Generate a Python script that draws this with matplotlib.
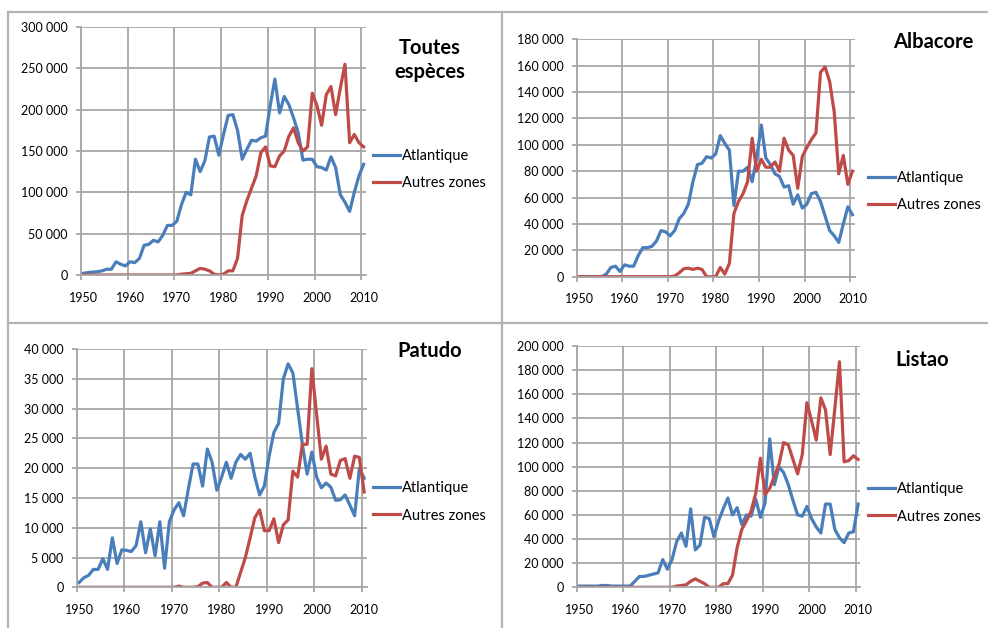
import numpy as np
import matplotlib
matplotlib.use('Agg')
import matplotlib.pyplot as plt
from matplotlib.lines import Line2D

plt.rcParams['font.family'] = ['Lato', 'DejaVu Sans']

years = np.arange(1950, 2011)

# Toutes especes
tout_atl = [2000, 3000, 3500, 4000, 5000, 7000, 7000, 16000, 13000, 11000,
            16000, 15000, 20000, 36000, 37000, 42000, 40000, 48000, 60000, 60000,
            65000, 85000, 100000, 97000, 140000, 125000, 138000, 167000, 168000, 145000,
            170000, 193000, 194000, 175000, 140000, 152000, 163000, 162000, 166000, 168000,
            205000, 237000, 196000, 216000, 206000, 190000, 172000, 139000, 140000, 140000,
            131000, 130000, 127000, 143000, 130000, 97000, 88000, 77000, 100000, 120000,
            134000]
tout_aut = [0] * 21 + [1000, 1500, 2000, 5000, 8000, 7000, 5000, 1000, 0,
            1000, 5000, 5000, 20000, 72000, 90000, 105000, 120000, 148000, 155000,
            132000, 131000, 144000, 150000, 168000, 178000, 160000, 150000, 155000, 220000,
            205000, 181000, 218000, 228000, 194000, 226000, 255000, 160000, 170000, 160000,
            155000]

# Albacore
alb_atl = [0, 0, 0, 0, 0, 0, 2000, 7000, 8000, 4000,
           9000, 8000, 8000, 16000, 22000, 22000, 23000, 27000, 35000, 34000,
           31000, 35000, 44000, 48000, 55000, 72000, 85000, 86000, 91000, 90000,
           93000, 107000, 101000, 96000, 54000, 80000, 80000, 83000, 72000, 90000,
           115000, 90000, 85000, 78000, 76000, 68000, 69000, 55000, 62000, 52000,
           55000, 63000, 64000, 57000, 46000, 35000, 31000, 26000, 40000, 53000,
           47000]
alb_aut = [0] * 21 + [500, 3000, 6000, 6500, 5500, 6500, 5500, 0, 0,
           0, 7000, 2000, 10000, 48000, 57000, 63000, 72000, 105000, 80000,
           89000, 83000, 83000, 87000, 80000, 105000, 96000, 92000, 67000, 91000,
           98000, 104000, 109000, 155000, 159000, 148000, 125000, 78000, 92000, 70000,
           80000]

# Patudo
pat_atl = [800, 1600, 2000, 3000, 3000, 4800, 3000, 8300, 4000, 6300,
           6200, 6000, 7000, 11000, 5800, 9800, 5300, 11000, 3200, 11000,
           13000, 14200, 12000, 16500, 20700, 20700, 17000, 23200, 21000, 16300,
           18500, 21000, 18300, 21000, 22300, 21500, 22500, 18500, 15500, 17000,
           22000, 26000, 27500, 35000, 37500, 36000, 30000, 24000, 19000, 22700,
           18500, 16700, 17500, 16800, 14600, 14700, 15500, 13800, 12000, 20000,
           18300]
pat_aut = [0] * 21 + [200, 0, 0, 0, 100, 700, 800, 0, 0,
           0, 800, 0, 0, 2500, 5000, 8300, 11700, 13000, 9500,
           9500, 11500, 7500, 10500, 11300, 19500, 18500, 24000, 24000, 36700,
           29000, 21500, 23700, 19000, 18700, 21300, 21600, 18300, 22000, 21800,
           16000]

# Listao
lis_atl = [1000, 1000, 1000, 1000, 1000, 1500, 1500, 1000, 1000, 1000,
           1000, 1000, 5000, 9000, 9000, 10000, 11000, 12000, 23000, 15000,
           23000, 38000, 45000, 34000, 65000, 31000, 35000, 58000, 57000, 42000,
           55000, 65000, 74000, 60000, 66000, 52000, 60000, 59000, 73000, 58000,
           70000, 123000, 85000, 100000, 95000, 85000, 72000, 60000, 59000, 67000,
           57000, 50000, 45000, 69000, 69000, 48000, 41000, 37000, 45000, 46000,
           69000]
lis_aut = [0] * 21 + [1000, 1500, 2000, 5000, 7000, 5000, 3000, 0, 0,
           0, 3000, 3000, 10000, 33000, 48000, 55000, 63000, 78000, 107000,
           77000, 82000, 92000, 102000, 120000, 118000, 106000, 94000, 110000, 153000,
           138000, 122000, 157000, 147000, 110000, 148000, 187000, 104000, 105000, 109000,
           106000]

W, H = 988, 628
fig = plt.figure(figsize=(W / 100, H / 100), dpi=100)

blue = '#4a7ebb'
red = '#be4b48'
grid = '#a6a6a6'


def px(l, t, r, b):
    return [l / W, 1 - b / H, (r - l) / W, (b - t) / H]


def panel(rect, atl, aut, ymax, ystep, title, tpos, lpos):
    ax = fig.add_axes(px(*rect))
    ax.plot(years + 0.5, atl, color=blue, lw=2.3, label='Atlantique')
    ax.plot(years + 0.5, aut, color=red, lw=2.3, label='Autres zones')
    ax.set_xlim(1950, 2011)
    ax.set_ylim(0, ymax)
    ax.set_xticks(np.arange(1950, 2011, 10))
    ax.set_xticklabels([])
    ax.set_xticks(np.arange(1950, 2011, 10) + 0.5, minor=True)
    ax.set_xticklabels([str(y) for y in range(1950, 2011, 10)], minor=True)
    yt = np.arange(0, ymax + 1, ystep)
    ax.set_yticks(yt)
    ax.set_yticklabels([f'{int(v):,}'.replace(',', ' ') for v in yt])
    ax.tick_params(axis='y', length=3.5, width=1.3, color=grid, pad=6, labelsize=9)
    ax.tick_params(axis='x', which='major', length=3.5, width=1.3, color=grid)
    ax.tick_params(axis='x', which='minor', length=0, pad=12, labelsize=9)
    ax.grid(True, which='major', color=grid, lw=1.3)
    ax.set_axisbelow(True)
    for s in ['top', 'right']:
        ax.spines[s].set_visible(False)
    for s in ['left', 'bottom']:
        ax.spines[s].set_color(grid)
        ax.spines[s].set_linewidth(1.3)
    fig.text(tpos[0] / W, 1 - tpos[1] / H, title, fontsize=14.5, fontweight='bold',
             ha='center', va='center', linespacing=1.25)
    ax.legend(loc='center left', bbox_to_anchor=(lpos[0] / W, 1 - lpos[1] / H),
              bbox_transform=fig.transFigure, frameon=False, fontsize=10.5,
              handlelength=1.85, handletextpad=0.15, labelspacing=0.9, borderpad=0,
              borderaxespad=0)
    return ax


panel((81, 27, 366, 275), tout_atl, tout_aut, 300000, 50000,
      'Toutes\nespèces', (430, 60), (373, 169.5))
panel((576.7, 39.3, 854.7, 276.7), alb_atl, alb_aut, 180000, 20000,
      'Albacore', (933, 42), (868, 191.5))
panel((76.7, 349, 366.5, 587.3), pat_atl, pat_aut, 40000, 5000,
      'Patudo', (430, 351), (373, 502))
panel((576.7, 346, 860.4, 587.3), lis_atl, lis_aut, 200000, 20000,
      'Listao', (922, 360), (868, 503))

# panel frames
frame = '#b4b4b4'
for (x0, y0, x1, y1) in [(8, 12, 988, 12), (8, 12, 8, 628), (502, 12, 502, 628),
                         (8, 323, 988, 323)]:
    fig.add_artist(Line2D([x0 / W, x1 / W], [1 - y0 / H, 1 - y1 / H],
                          transform=fig.transFigure, color=frame, lw=1.6))

fig.savefig('out.png', dpi=100, facecolor='white')
